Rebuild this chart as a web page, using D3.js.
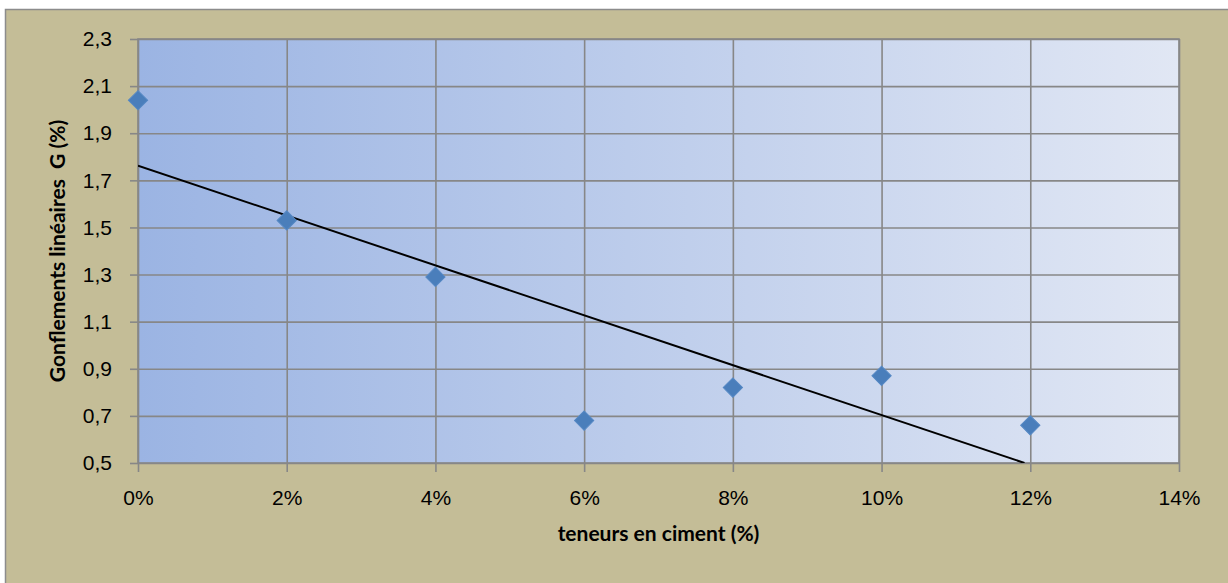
<!DOCTYPE html>
<html>
<head>
<meta charset="utf-8">
<script src="https://cdn.jsdelivr.net/npm/d3@7"></script>
<style>
  body { margin: 0; background: #fff; }
  svg { display: block; font-family: Lato, "Open Sans", sans-serif; }
</style>
</head>
<body>
<div id="container"></div>
<script>
/* DATA */
const cementPct = [0, 2, 4, 6, 8, 10, 12]
const swelling = [2.04, 1.53, 1.29, 0.68, 0.82, 0.87, 0.66]
const xTicks = [0, 2, 4, 6, 8, 10, 12, 14]
const yTicks = [0.5, 0.7, 0.9, 1.1, 1.3, 1.5, 1.7, 1.9, 2.1, 2.3]

/* CONSTANTS */
const width = 1228, height = 583
const plot = { left: 138, right: 1179, top: 39, bottom: 463 }

const svg = d3.select("#container")
  .append("svg")
  .attr("width", width)
  .attr("height", height)

// chart area (beige)
svg.append("rect")
  .attr("x", 5.5).attr("y", 9.5)
  .attr("width", width).attr("height", height)
  .attr("fill", "#c4bd97")
  .attr("stroke", "#8c8c8c")
  .attr("stroke-width", 1.5)

// gradient for the plot area
const grad = svg.append("defs").append("linearGradient")
  .attr("id", "bg").attr("x1", 0).attr("x2", 1).attr("y1", 0).attr("y2", 0)
grad.append("stop").attr("offset", 0).attr("stop-color", "#9bb4e3")
grad.append("stop").attr("offset", 1).attr("stop-color", "#e1e7f4")

// SCALES
const xScale = d3.scaleLinear()
  .domain([0, 14])
  .range([plot.left, plot.right])

const yScale = d3.scaleLinear()
  .domain([0.5, 2.3])
  .range([plot.bottom, plot.top])

svg.append("rect")
  .attr("x", plot.left).attr("y", plot.top)
  .attr("width", plot.right - plot.left)
  .attr("height", plot.bottom - plot.top)
  .attr("fill", "url(#bg)")

// AXES + GRID
const fmtY = d => d.toFixed(1).replace(".", ",")
const fmtX = d => d + "%"

const yAxis = svg.append("g")
  .attr("transform", `translate(${plot.left}, 0)`)
  .call(d3.axisLeft(yScale).tickValues(yTicks).tickFormat(fmtY)
    .tickSize(8).tickSizeOuter(0).tickPadding(18))
yAxis.select(".domain").remove()
yAxis.selectAll(".tick line").clone()
  .attr("x2", plot.right - plot.left)
yAxis.selectAll(".tick line")
  .attr("stroke", "#878787").attr("stroke-width", 1.6)
yAxis.selectAll("text")
  .attr("fill", "#000").style("font-size", "21px")

const xAxis = svg.append("g")
  .attr("transform", `translate(0, ${plot.bottom})`)
  .call(d3.axisBottom(xScale).tickValues(xTicks).tickFormat(fmtX)
    .tickSize(9).tickSizeOuter(0).tickPadding(18))
xAxis.select(".domain").remove()
xAxis.selectAll(".tick line").clone()
  .attr("y2", -(plot.bottom - plot.top))
xAxis.selectAll(".tick line")
  .attr("stroke", "#878787").attr("stroke-width", 1.6)
xAxis.selectAll("text")
  .attr("fill", "#000").style("font-size", "21px")

// plot border
svg.append("rect")
  .attr("x", plot.left).attr("y", plot.top)
  .attr("width", plot.right - plot.left)
  .attr("height", plot.bottom - plot.top)
  .attr("fill", "none")
  .attr("stroke", "#878787").attr("stroke-width", 1.6)

// AXIS TITLES
svg.append("text")
  .attr("x", (plot.left + plot.right) / 2)
  .attr("y", 541)
  .attr("text-anchor", "middle")
  .style("font-size", "21px").style("font-weight", "bold")
  .text("teneurs en ciment (%)")

svg.append("text")
  .attr("transform", `translate(65, ${(plot.top + plot.bottom) / 2}) rotate(-90)`)
  .attr("text-anchor", "middle")
  .style("font-size", "21px").style("font-weight", "bold")
  .style("white-space", "pre")
  .text("Gonflements linéaires  G (%)")

// LINEAR TREND (least squares on the data)
const mx = d3.mean(cementPct), my = d3.mean(swelling)
const slope = d3.sum(cementPct, (x, i) => (x - mx) * (swelling[i] - my)) /
  d3.sum(cementPct, x => (x - mx) ** 2)
const icpt = my - slope * mx
const xEnd = Math.min(12, (0.5 - icpt) / slope)

svg.append("clipPath").attr("id", "clip")
  .append("rect")
  .attr("x", plot.left).attr("y", plot.top)
  .attr("width", plot.right - plot.left)
  .attr("height", plot.bottom - plot.top)

const lineGen = d3.line()
  .x(d => xScale(d))
  .y(d => yScale(icpt + slope * d))

svg.append("path")
  .datum([0, xEnd])
  .attr("clip-path", "url(#clip)")
  .attr("fill", "none")
  .attr("stroke", "#000")
  .attr("stroke-width", 2)
  .attr("d", lineGen)

// MARKERS
const diamond = d3.symbol().type(d3.symbolSquare).size(185)
svg.selectAll("path.pt")
  .data(cementPct.map((x, i) => ({ x, y: swelling[i] })))
  .join("path")
  .attr("class", "pt")
  .attr("transform", d => `translate(${xScale(d.x)}, ${yScale(d.y)}) rotate(45)`)
  .attr("d", diamond)
  .attr("fill", "#4a7ebb")
  .attr("stroke", "#5588c4")
  .attr("stroke-width", 1)
</script>
</body>
</html>
